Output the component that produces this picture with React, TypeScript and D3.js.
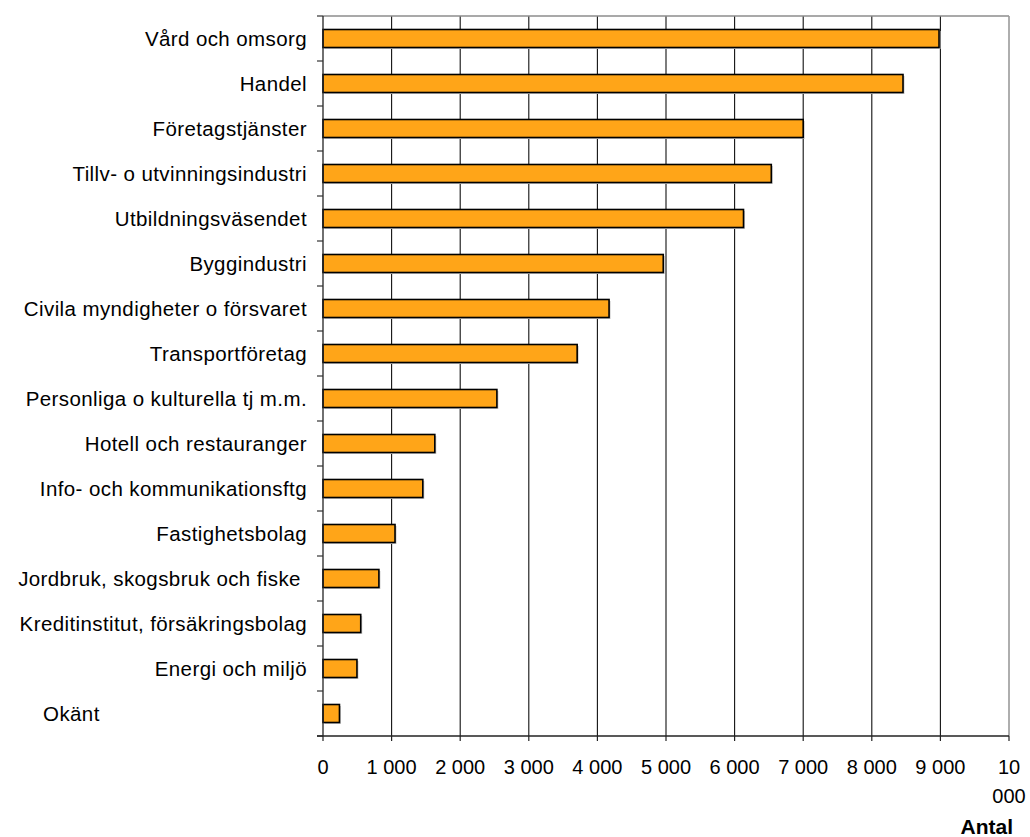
import React from 'react';
import * as d3 from 'd3';

// Antal per näringsgren
const categories = [
  'Vård och omsorg',
  'Handel',
  'Företagstjänster',
  'Tillv- o utvinningsindustri',
  'Utbildningsväsendet',
  'Byggindustri',
  'Civila myndigheter o försvaret',
  'Transportföretag',
  'Personliga o kulturella tj m.m.',
  'Hotell och restauranger',
  'Info- och kommunikationsftg',
  'Fastighetsbolag',
  'Jordbruk, skogsbruk och fiske ',
  'Kreditinstitut, försäkringsbolag',
  'Energi och miljö',
  'Okänt                                  ',
];

const values = [
  8980, 8455, 7000, 6535, 6130, 4960, 4170, 3705, 2535, 1630, 1455, 1050, 815, 550, 495, 240,
];

const xTicks = [0, 1000, 2000, 3000, 4000, 5000, 6000, 7000, 8000, 9000, 10000];
const xTitle = 'Antal';

const width = 1030;
const height = 837;
const margin = { top: 16, right: 21, bottom: 101, left: 323 };
const FONT = 'Arial, "Liberation Sans", sans-serif';

const fmt = d3.formatLocale({ decimal: ',', thousands: ' ', grouping: [3], currency: ['', ''] }).format(',');

const App: React.FC = () => {
  const innerRight = width - margin.right;
  const innerBottom = height - margin.bottom;

  const x = d3.scaleLinear().domain([0, 10000]).range([margin.left, innerRight]);
  const y = d3
    .scaleBand<string>()
    .domain(categories)
    .range([margin.top, innerBottom])
    .paddingInner(0.6)
    .paddingOuter(0.3);

  const step = y.step();
  // boundaries between categories for the y tick marks
  const boundaries = d3.range(categories.length + 1).map((i) => margin.top + i * step);

  return (
    <svg
      width={width}
      height={height}
      style={{ position: 'absolute', left: 0, top: 0, background: '#fff' }}
      fontFamily={FONT}
    >
      {/* vertical grid lines */}
      {xTicks.slice(1, -1).map((t) => (
        <line key={t} x1={x(t)} x2={x(t)} y1={margin.top} y2={innerBottom} stroke="#111" strokeWidth={1.1} />
      ))}
      {/* top and right border */}
      <line x1={margin.left} x2={innerRight} y1={margin.top} y2={margin.top} stroke="#8c8c8c" strokeWidth={1.6} />
      <line x1={innerRight} x2={innerRight} y1={margin.top} y2={innerBottom} stroke="#9a9a9a" strokeWidth={1.6} />

      {/* bars with a faint shadow */}
      {categories.map((c, i) => (
        <g key={c}>
          <rect
            x={x(0) + 1.5}
            y={(y(c) as number) + 1.5}
            width={x(values[i]) - x(0)}
            height={y.bandwidth()}
            fill="#c8c8c8"
          />
          <rect
            x={x(0)}
            y={y(c)}
            width={x(values[i]) - x(0)}
            height={y.bandwidth()}
            fill="#ffa518"
            stroke="#000"
            strokeWidth={1.6}
          />
        </g>
      ))}

      {/* y axis */}
      <line x1={margin.left} x2={margin.left} y1={margin.top} y2={innerBottom} stroke="#222" strokeWidth={1.3} />
      {boundaries.map((b, i) => (
        <line key={i} x1={margin.left - 6} x2={margin.left} y1={b} y2={b} stroke="#333" strokeWidth={1.2} />
      ))}
      {categories.map((c) => (
        <text
          key={c}
          x={margin.left - 16}
          y={(y(c) as number) + y.bandwidth() / 2}
          dy="0.36em"
          textAnchor="end"
          fontSize={20.5}
          letterSpacing={0.4}
          fill="#000"
          style={{ whiteSpace: 'pre' }}
        >
          {c}
        </text>
      ))}

      {/* x axis */}
      <line x1={margin.left - 6} x2={innerRight} y1={innerBottom} y2={innerBottom} stroke="#222" strokeWidth={1.3} />
      {xTicks.map((t) => (
        <line key={t} x1={x(t)} x2={x(t)} y1={innerBottom} y2={innerBottom + 5} stroke="#222" strokeWidth={1.2} />
      ))}
      {xTicks.map((t, i) => {
        const label = fmt(t);
        const lines = i === xTicks.length - 1 ? label.split(' ') : [label];
        return (
          <text key={t} x={x(t)} y={innerBottom + 38} textAnchor="middle" fontSize={20} fill="#000">
            {lines.map((l, j) => (
              <tspan key={j} x={x(t)} dy={j === 0 ? 0 : 29}>
                {l}
              </tspan>
            ))}
          </text>
        );
      })}
      <text x={innerRight + 4} y={height - 3} textAnchor="end" fontSize={21} fontWeight="bold" fill="#000">
        {xTitle}
      </text>
    </svg>
  );
};

export default App;
